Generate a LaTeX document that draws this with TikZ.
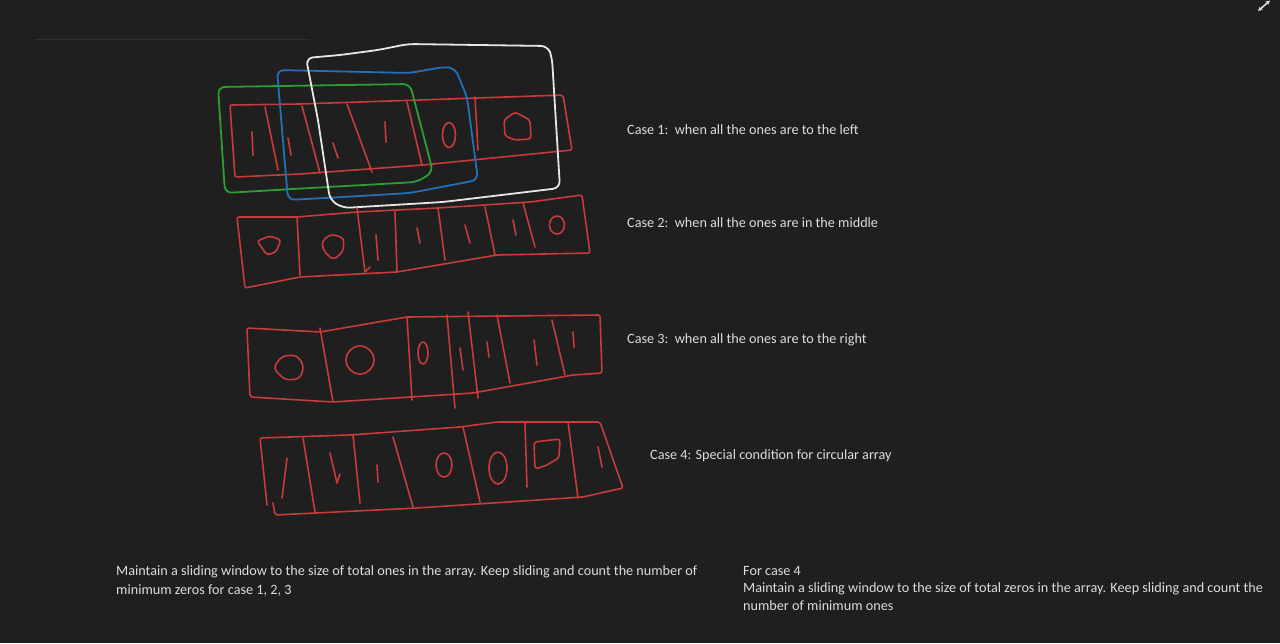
\documentclass[tikz,border=0pt]{standalone}
\usepackage{fontspec}
\setmainfont{Carlito}
\usetikzlibrary{arrows.meta}
\definecolor{bg}{HTML}{1F1F1F}
\definecolor{ink}{HTML}{C93A3A}
\definecolor{wgreen}{HTML}{2E9E34}
\definecolor{wblue}{HTML}{2270B5}
\definecolor{wwhite}{HTML}{E6E6E6}
\definecolor{txt}{HTML}{DCDCDC}
\tikzset{
  pen/.style={line width=1.6pt, line cap=round, line join=round},
  arr/.style={pen, draw=ink, rounded corners=2pt},
  dig/.style={pen, draw=ink},
  win/.style={pen, line width=1.8pt, rounded corners=7pt},
  lbl/.style={anchor=base west, inner sep=0pt, text=txt, font=\fontsize{14.2}{18}\selectfont}
}
\begin{document}
\begin{tikzpicture}[x=1pt,y=-1pt]
\useasboundingbox (0,0) rectangle (1280,643);
\fill[bg] (0,0) rectangle (1280,643);
% faint line top-left
\draw[line width=0.8pt, draw=white!7!bg] (35,39) -- (310,39);
% expand icon
\draw[line width=1.6pt, draw=txt, {Stealth[length=4.5pt,width=4.5pt]}-{Stealth[length=4.5pt,width=4.5pt]}] (1258,11) -- (1270,0.5);

% ---------- Array 1 ----------
\draw[arr] (230,105) -- (300,104) -- (420,100) -- (563,95) -- (572,150) -- (423,165) -- (300,174) -- (235,177) -- cycle;
\draw[dig] (265,107) -- (278,170);
\draw[dig] (302,106) -- (320,173);
\draw[dig] (347,104) -- (372,172);
\draw[dig] (407,102) -- (422,165);
\draw[dig] (475,97) -- (478,150);
\draw[dig] (252,132) -- (253,155);
\draw[dig] (288,138) -- (291,155);
\draw[dig] (333,143) -- (338,158);
\draw[dig] (385,122) -- (386,142);
\draw[dig] (449,135) ellipse [x radius=6.5, y radius=12.5];
\draw[dig, rounded corners=3pt] (505,136) -- (504,120) -- (515,112) -- (530,120) -- (531,139) -- (515,140) -- cycle;

% windows
\draw[win, draw=wgreen] (218,87) -- (410,84) -- (433,172) -- (417,182) -- (310,188) -- (225,193) -- cycle;
\draw[win, draw=wblue] (277,70) -- (410,73) -- (443,67) -- (455,68) -- (467,97) -- (478,180) -- (410,193) -- (343,197) -- (288,200) -- cycle;
\draw[win, draw=wwhite] (306,58) -- (340,55) -- (378,50) -- (408,44) -- (548,46) -- (552,58) -- (560,188) -- (443,202) -- (343,208) -- (330,200) -- (318,120) -- cycle;

% ---------- Array 2 ----------
\draw[arr] (237,217) -- (297,217) -- (357,212) -- (438,208) -- (530,202) -- (582,195) -- (590,253) -- (497,255) -- (397,272) -- (300,277) -- (245,288) -- cycle;
\draw[dig] (297,217) -- (300,275);
\draw[dig] (357,208) -- (365,272) -- (370,267);
\draw[dig] (395,212) -- (397,272);
\draw[dig] (438,208) -- (445,260);
\draw[dig] (485,207) -- (495,255);
\draw[dig] (523,203) -- (535,247);
\draw[dig, rounded corners=3pt] (257,241) -- (270,236) -- (281,240) -- (276,252) -- (267,255) -- cycle;
\draw[dig, rounded corners=4pt] (322,241) -- (331,234) -- (344,238) -- (343,252) -- (333,260) -- (323,250) -- cycle;
\draw[dig] (376,235) -- (378,260);
\draw[dig] (417,228) -- (420,243);
\draw[dig] (465,225) -- (470,243);
\draw[dig] (513,220) -- (516,235);
\draw[dig] (557,225) ellipse [x radius=7.5, y radius=9];

% ---------- Array 3 ----------
\draw[arr] (247,328) -- (320,332) -- (407,317) -- (600,315) -- (602,373) -- (573,375) -- (473,393) -- (333,402) -- (250,397) -- cycle;
\draw[dig] (320,328) -- (333,402);
\draw[dig] (407,317) -- (412,400);
\draw[dig] (447,315) -- (455,408);
\draw[dig] (468,312) -- (478,398);
\draw[dig] (497,315) -- (510,383);
\draw[dig] (552,320) -- (565,375);
\draw[dig, rounded corners=5pt] (273,368) -- (282,356) -- (297,355) -- (304,366) -- (300,379) -- (285,380) -- cycle;
\draw[dig] (360,360) circle [radius=14];
\draw[dig] (423,353) ellipse [x radius=5, y radius=11];
\draw[dig] (460,348) -- (463,370);
\draw[dig] (487,342) -- (489,357);
\draw[dig] (534,340) -- (537,365);
\draw[dig] (573,332) -- (574,347);

% ---------- Array 4 ----------
\draw[arr] (267,505) -- (260,438) -- (350,435) -- (460,427) -- (497,422) -- (600,422) -- (623,488) -- (583,497) -- (417,508) -- (275,515) -- (273,503);
\draw[dig] (303,438) -- (315,512);
\draw[dig] (353,435) -- (360,503);
\draw[dig] (393,437) -- (413,507);
\draw[dig] (463,427) -- (480,502);
\draw[dig] (525,423) -- (527,487);
\draw[dig] (568,422) -- (578,498);
\draw[dig] (287,458) -- (282,498);
\draw[dig] (330,453) -- (337,483) -- (340,474);
\draw[dig] (377,465) -- (378,482);
\draw[dig] (444,465) ellipse [x radius=8, y radius=12];
\draw[dig] (498,468) ellipse [x radius=9, y radius=16];
\draw[dig, rounded corners=3pt] (535,469) -- (534,442) -- (560,439) -- (559,458) -- (545,466) -- cycle;
\draw[dig] (598,447) -- (602,467);

% ---------- Texts ----------
\node[lbl] (c1) at (627,134) {Case 1:\ \ when all the ones are to the left};
\node[lbl] (c2) at (627,227) {Case 2:\ \ when all the ones are in the middle};
\node[lbl] (c3) at (627,343) {Case 3:\ \ when all the ones are to the right};
\node[lbl] (c4) at (650,459) {Case 4: Special condition for circular array};
\node[lbl] (n1a) at (116,575) {Maintain a sliding window to the size of total ones in the array. Keep sliding and count the number of};
\node[lbl] (n1b) at (116,594) {minimum zeros for case 1, 2, 3};
\node[lbl] (n2a) at (743,575) {For case 4};
\node[lbl] (n2b) at (743,592) {Maintain a sliding window to the size of total zeros in the array. Keep sliding and count the};
\node[lbl] (n2c) at (743,610) {number of minimum ones};
\end{tikzpicture}
\end{document}
